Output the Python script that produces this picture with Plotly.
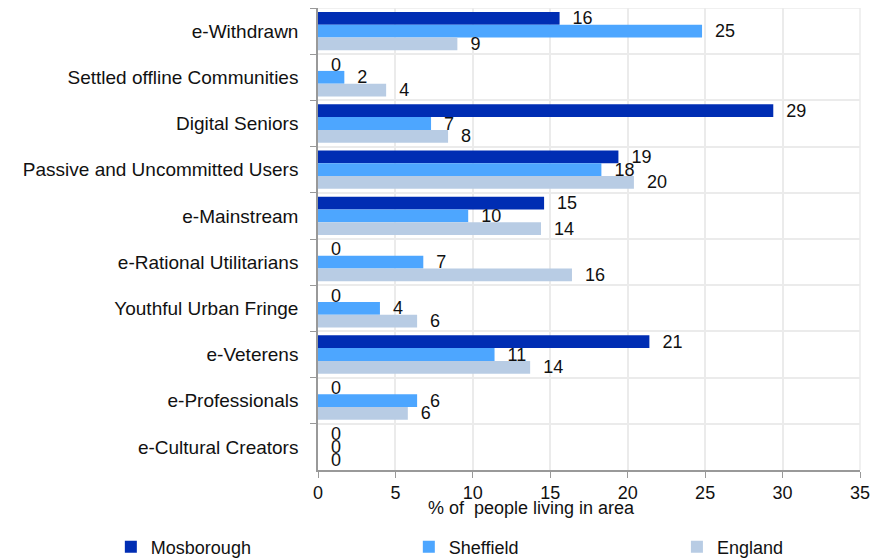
import plotly.graph_objects as go

categories = ["e-Withdrawn", "Settled offline Communities", "Digital Seniors",
              "Passive and Uncommitted Users", "e-Mainstream", "e-Rational Utilitarians",
              "Youthful Urban Fringe", "e-Veterens", "e-Professionals", "e-Cultural Creators"]
mosborough = [15.6, 0, 29.4, 19.4, 14.6, 0, 0, 21.4, 0, 0]
sheffield = [24.8, 1.7, 7.3, 18.3, 9.7, 6.8, 4.0, 11.4, 6.4, 0]
england = [9.0, 4.4, 8.4, 20.4, 14.4, 16.4, 6.4, 13.7, 5.8, 0]
x_title = "% of  people living in area"

series = [("Mosborough", mosborough, "#002db3", "legend", 0.117),
          ("Sheffield", sheffield, "#4da6ff", "legend2", 0.456),
          ("England", england, "#b8cce4", "legend3", 0.761)]

fig = go.Figure()
for name, vals, col, lg, lx in series:
    fig.add_trace(go.Bar(
        name=name, y=categories, x=vals, orientation="h",
        marker=dict(color=col, line=dict(width=0)),
        text=[f"{v:.0f}" for v in vals],
        texttemplate="  %{text}",
        textposition="outside",
        constraintext="none",
        textfont=dict(size=18, color="#111111"),
        cliponaxis=False,
        legend=lg,
    ))

legend_common = dict(orientation="h", xref="container", yref="container",
                     y=0.0358, yanchor="middle", xanchor="left",
                     font=dict(size=18), itemwidth=30, bgcolor="rgba(0,0,0,0)")
layout_legends = {}
for name, vals, col, lg, lx in series:
    layout_legends[lg] = dict(legend_common, x=lx)

fig.update_layout(
    width=879, height=559,
    margin=dict(l=310, r=27, t=0, b=97, autoexpand=False),
    barmode="group", bargap=0.17, bargroupgap=0,
    plot_bgcolor="white", paper_bgcolor="white",
    font=dict(family="Liberation Sans, Arial, sans-serif", size=18, color="#111111"),
    xaxis=dict(range=[0, 35], dtick=5, showgrid=True, gridcolor="#ebebeb", gridwidth=1.5,
               showline=True, linecolor="#999999", linewidth=1.5,
               ticks="outside", ticklen=6, tickcolor="#999999",
               zeroline=False, automargin=False, ticklabelstandoff=0),
    yaxis=dict(autorange="reversed", showgrid=True, gridcolor="#ebebeb", gridwidth=1.5,
               tickson="boundaries", ticks="outside", ticklen=6, tickcolor="#999999",
               showline=True, linecolor="#999999", linewidth=1.5,
               ticklabelstandoff=14, automargin=False, tickfont=dict(size=19)),
    showlegend=True,
    **layout_legends,
)
fig.add_annotation(text=x_title, xref="paper", yref="paper", x=0.393, y=-0.0823,
                   xanchor="center", yanchor="middle", showarrow=False,
                   font=dict(size=18, color="#111111"))
fig.add_shape(type="line", xref="paper", yref="paper", x0=0, x1=1, y0=1, y1=1,
              line=dict(color="#ebebeb", width=1.5))
fig.add_shape(type="line", xref="paper", yref="paper", x0=1, x1=1, y0=0, y1=1,
              line=dict(color="#ebebeb", width=1.5))

fig.write_html("out.html")
